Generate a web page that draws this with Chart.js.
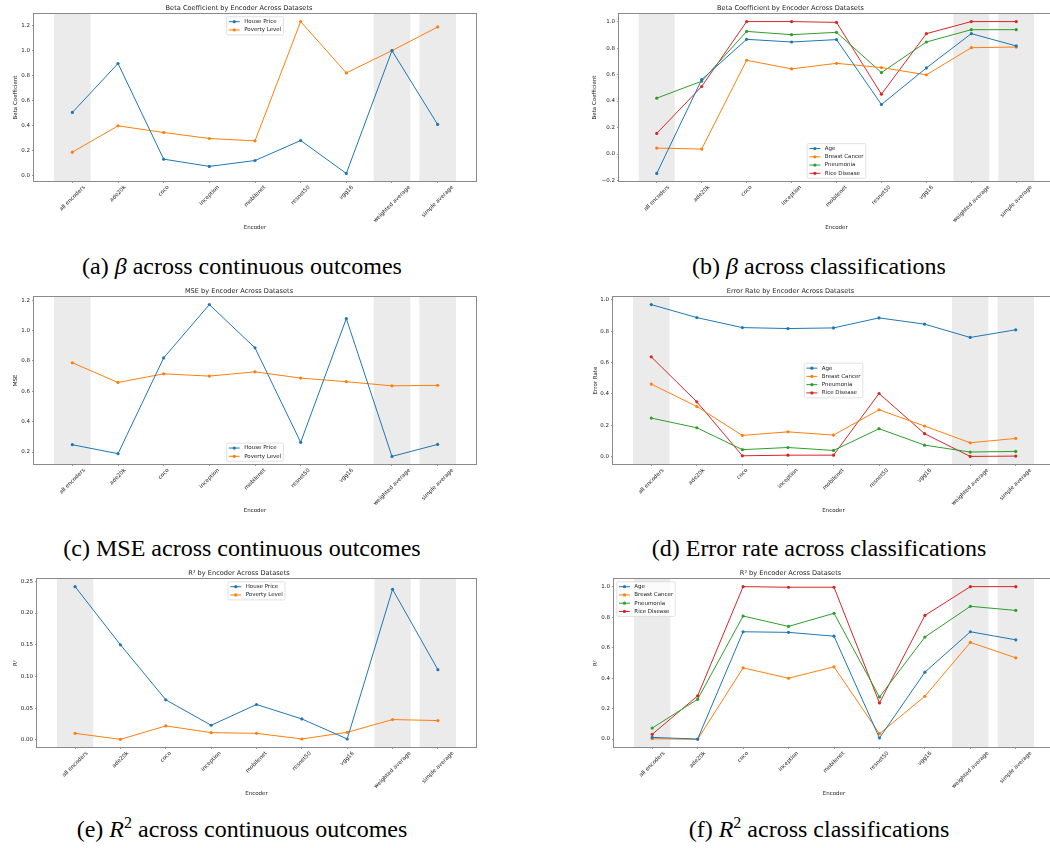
<!DOCTYPE html>
<html>
<head>
<meta charset="utf-8">
<script src="https://cdn.jsdelivr.net/npm/chart.js@4.4.1/dist/chart.umd.min.js"></script>
<style>
  html, body { margin: 0; padding: 0; background: #fff; width: 1050px; height: 848px; overflow: hidden; }
  canvas { position: absolute; }
  .caption {
    position: absolute; width: 460px; margin-left: -230px; text-align: center;
    font-family: "Liberation Serif", "Times New Roman", serif; font-size: 24px; line-height: 28px;
    color: #000; white-space: nowrap;
  }
  .caption sup { font-size: 16px; line-height: 0; vertical-align: 9px; }
</style>
</head>
<body>
<canvas id="chartA"></canvas>
<canvas id="chartB"></canvas>
<canvas id="chartC"></canvas>
<canvas id="chartD"></canvas>
<canvas id="chartE"></canvas>
<canvas id="chartF"></canvas>

<div class="caption" style="left:242px; top:252px">(a) <i>β</i> across continuous outcomes</div>
<div class="caption" style="left:819px; top:252px">(b) <i>β</i> across classifications</div>
<div class="caption" style="left:242px; top:534px">(c) MSE across continuous outcomes</div>
<div class="caption" style="left:819px; top:534px">(d) Error rate across classifications</div>
<div class="caption" style="left:242px; top:815px">(e) <i>R</i><sup>2</sup> across continuous outcomes</div>
<div class="caption" style="left:819px; top:815px">(f) <i>R</i><sup>2</sup> across classifications</div>

<script>
// ---- data ----
const encoders = ['all encoders', 'ade20k', 'coco', 'inception', 'mobilenet', 'resnet50', 'vgg16', 'weighted average', 'simple average'];
const shadedIdx = [0, 7, 8]; // columns with grey background

// (a) beta, continuous outcomes
const betaHousePrice   = [0.506, 0.897, 0.133, 0.075, 0.122, 0.282, 0.019, 1.000, 0.410];
const betaPovertyLevel = [0.189, 0.399, 0.346, 0.298, 0.279, 1.232, 0.822, 1.000, 1.189];
const betaContTicks = [0.0, 0.2, 0.4, 0.6, 0.8, 1.0, 1.2];

// (b) beta, classifications
const betaAge          = [-0.146, 0.562, 0.866, 0.846, 0.864, 0.374, 0.650, 0.909, 0.816];
const betaBreastCancer = [0.045, 0.038, 0.708, 0.643, 0.685, 0.653, 0.598, 0.803, 0.808];
const betaPneumonia    = [0.422, 0.550, 0.926, 0.901, 0.919, 0.615, 0.846, 0.939, 0.939];
const betaRiceDisease  = [0.156, 0.510, 1.000, 1.000, 0.994, 0.452, 0.909, 1.000, 1.000];
const betaClassTicks = [-0.2, 0.0, 0.2, 0.4, 0.6, 0.8, 1.0];

// (c) MSE, continuous outcomes
const mseHousePrice   = [0.248, 0.189, 0.820, 1.171, 0.886, 0.264, 1.079, 0.171, 0.250];
const msePovertyLevel = [0.788, 0.658, 0.715, 0.700, 0.728, 0.687, 0.663, 0.636, 0.639];
const mseTicks = [0.2, 0.4, 0.6, 0.8, 1.0, 1.2];

// (d) error rate, classifications
const errAge          = [0.970, 0.887, 0.823, 0.817, 0.821, 0.885, 0.845, 0.760, 0.809];
const errBreastCancer = [0.462, 0.319, 0.134, 0.157, 0.136, 0.298, 0.194, 0.087, 0.115];
const errPneumonia    = [0.245, 0.183, 0.043, 0.057, 0.038, 0.177, 0.072, 0.028, 0.032];
const errRiceDisease  = [0.636, 0.349, 0.004, 0.008, 0.008, 0.402, 0.145, 0.000, 0.002];
const errTicks = [0.0, 0.2, 0.4, 0.6, 0.8, 1.0];

// (e) R2, continuous outcomes
const r2HousePrice   = [0.2416, 0.1500, 0.0633, 0.0232, 0.0559, 0.0332, 0.0016, 0.2373, 0.1108];
const r2PovertyLevel = [0.0105, 0.0010, 0.0222, 0.0116, 0.0105, 0.0016, 0.0121, 0.0322, 0.0306];
const r2ContTicks = [0.00, 0.05, 0.10, 0.15, 0.20, 0.25];

// (f) R2, classifications
const r2Age          = [0.011, 0.000, 0.704, 0.700, 0.675, 0.007, 0.439, 0.704, 0.651];
const r2BreastCancer = [0.002, -0.002, 0.467, 0.399, 0.474, 0.035, 0.281, 0.634, 0.533];
const r2Pneumonia    = [0.072, 0.261, 0.807, 0.739, 0.825, 0.276, 0.669, 0.871, 0.844];
const r2RiceDisease  = [0.031, 0.283, 1.000, 0.996, 0.996, 0.237, 0.811, 1.000, 1.000];
const r2ClassTicks = [0.0, 0.2, 0.4, 0.6, 0.8, 1.0];

// matplotlib tab10
const C_BLUE = '#1f77b4', C_ORANGE = '#ff7f0e', C_GREEN = '#2ca02c', C_RED = '#d62728';

const FONT = 'DejaVu Sans';
const FS = 5.5;       // tick / label size
const TITLE_FS = 6.6;
const TXT = '#222';

// ---- plugins ----
const shadePlugin = {
    id: 'shade',
    beforeDatasetsDraw(chart) {
        const { ctx, chartArea: a, scales: { x } } = chart;
        ctx.save();
        ctx.fillStyle = '#ebebeb';
        shadedIdx.forEach(i => {
            const x0 = x.getPixelForValue(i - 0.4), x1 = x.getPixelForValue(i + 0.4);
            ctx.fillRect(x0, a.top, x1 - x0, a.bottom - a.top);
        });
        ctx.restore();
    }
};

// frame + matplotlib style legend box
const framePlugin = {
    id: 'frame',
    afterDatasetsDraw(chart, args, opts) {
        const { ctx, chartArea: a } = chart;
        ctx.save();
        ctx.strokeStyle = '#8a8a8a';
        ctx.lineWidth = 1;
        ctx.strokeRect(Math.round(a.left) - 0.5, Math.round(a.top) - 0.5,
            Math.round(a.right - a.left) + 1, Math.round(a.bottom - a.top) + 1);

        // legend
        const ds = chart.data.datasets;
        ctx.font = FS + 'px "' + FONT + '"';
        const pad = 0.4 * FS, rowH = FS, gap = 0.5 * FS, hLen = 2 * FS, tPad = 0.8 * FS, axPad = 0.5 * FS;
        const textW = Math.max(...ds.map(d => ctx.measureText(d.label).width));
        const bw = 2 * pad + hLen + tPad + textW;
        const bh = 2 * pad + ds.length * rowH + (ds.length - 1) * gap;
        let bx = (a.left + a.right) / 2 - bw / 2, by;
        if (opts.loc === 'upper center') by = a.top + axPad;
        else if (opts.loc === 'lower center') by = a.bottom - axPad - bh;
        else if (opts.loc === 'center') by = (a.top + a.bottom) / 2 - bh / 2;
        else { bx = a.left + axPad; by = a.top + axPad; }

        ctx.beginPath();
        ctx.roundRect(bx, by, bw, bh, 1.2);
        ctx.fillStyle = 'rgba(255,255,255,0.8)';
        ctx.fill();
        ctx.strokeStyle = '#d6d6d6';
        ctx.lineWidth = 0.7;
        ctx.stroke();

        ds.forEach((d, j) => {
            const cy = by + pad + j * (rowH + gap) + rowH / 2;
            const hx = bx + pad;
            ctx.strokeStyle = d.borderColor;
            ctx.lineWidth = 1;
            ctx.beginPath();
            ctx.moveTo(hx, cy);
            ctx.lineTo(hx + hLen, cy);
            ctx.stroke();
            ctx.fillStyle = d.borderColor;
            ctx.beginPath();
            ctx.arc(hx + hLen / 2, cy, 1.6, 0, Math.PI * 2);
            ctx.fill();
            ctx.fillStyle = TXT;
            ctx.textAlign = 'left';
            ctx.textBaseline = 'middle';
            ctx.fillText(d.label, hx + hLen + tPad, cy);
        });
        ctx.restore();
    }
};

// rotated x tick labels, centred under the tick like matplotlib
const xLabelPlugin = {
    id: 'xlabels',
    afterDraw(chart) {
        const { ctx, chartArea: a, scales: { x } } = chart;
        ctx.save();
        ctx.font = FS + 'px "' + FONT + '"';
        ctx.fillStyle = TXT;
        ctx.textAlign = 'center';
        ctx.textBaseline = 'middle';
        encoders.forEach((lab, i) => {
            const w = ctx.measureText(lab).width;
            const W = (w + FS) * Math.SQRT1_2;
            ctx.save();
            ctx.translate(x.getPixelForValue(i), a.bottom + 3.5 + W / 2);
            ctx.rotate(-Math.PI / 4);
            ctx.fillText(lab, 0, 0);
            ctx.restore();
        });
        ctx.restore();
    }
};

function fmt(v, dec) {
    return v.toFixed(dec).replace('-', '\u2212');
}

function makePanel(cfg) {
    const area = cfg.area;
    const cx = cfg.left, cy = area.t - 14;
    const canvas = document.getElementById(cfg.id);
    canvas.width = area.r + 2 - cx;
    canvas.height = area.b + 60 - cy;
    canvas.style.left = cx + 'px';
    canvas.style.top = cy + 'px';

    // matplotlib-like autoscale (5% margins)
    const vals = cfg.series.flatMap(s => s.data);
    const lo = Math.min(...vals), hi = Math.max(...vals), m = (hi - lo) * 0.05;
    const xLo = -0.4, xHi = encoders.length - 1 + 0.4, xm = (xHi - xLo) * 0.05;
    const lh = FS * 1.2;

    new Chart(canvas, {
        type: 'line',
        data: {
            datasets: cfg.series.map(s => ({
                label: s.label,
                data: s.data.map((v, i) => ({ x: i, y: v })),
                borderColor: s.color,
                backgroundColor: s.color,
                borderWidth: 1,
                pointRadius: 1.6,
                pointBorderWidth: 0,
                tension: 0
            }))
        },
        options: {
            responsive: false,
            animation: false,
            layout: { padding: { left: 0, right: 2, top: 0, bottom: 0 } },
            plugins: {
                legend: { display: false },
                tooltip: { enabled: false },
                title: {
                    display: true, text: cfg.title, color: TXT,
                    font: { family: FONT, size: TITLE_FS, weight: 'normal' },
                    padding: { top: 4, bottom: 14 - 4 - TITLE_FS * 1.2 }
                },
                frame: { loc: cfg.legend }
            },
            scales: {
                x: {
                    type: 'linear', min: xLo - xm, max: xHi + xm, bounds: 'data',
                    afterBuildTicks: sc => { sc.ticks = encoders.map((_, i) => ({ value: i })); },
                    afterFit: sc => { sc.height = 60; },
                    ticks: { display: false },
                    grid: { drawOnChartArea: false, drawTicks: true, tickLength: 2, color: '#555', lineWidth: 0.6 },
                    border: { display: false },
                    title: {
                        display: true, text: 'Encoder', color: TXT,
                        font: { family: FONT, size: FS }, padding: { top: 0, bottom: 9.7 }
                    }
                },
                y: {
                    type: 'linear', min: lo - m, max: hi + m, bounds: 'data',
                    afterBuildTicks: sc => { sc.ticks = cfg.ticks.map(v => ({ value: v })); },
                    afterFit: sc => { sc.width = area.l - cx; },
                    ticks: {
                        autoSkip: false, padding: 2, color: TXT,
                        font: { family: FONT, size: FS },
                        callback: v => fmt(v, cfg.dec)
                    },
                    grid: { drawOnChartArea: false, drawTicks: true, tickLength: 2, color: '#555', lineWidth: 0.6 },
                    border: { display: false },
                    title: {
                        display: true, text: cfg.ylabel, color: TXT,
                        font: { family: FONT, size: FS },
                        padding: { top: cfg.ylabelX - cx - lh / 2, bottom: 0 }
                    }
                }
            }
        },
        plugins: [shadePlugin, framePlugin, xLabelPlugin]
    });
}

makePanel({
    id: 'chartA', left: 0, area: { l: 34, t: 14, r: 478, b: 181 }, ylabelX: 16,
    title: 'Beta Coefficient by Encoder Across Datasets', ylabel: 'Beta Coefficient',
    ticks: betaContTicks, dec: 1, legend: 'upper center',
    series: [
        { label: 'House Price', data: betaHousePrice, color: C_BLUE },
        { label: 'Poverty Level', data: betaPovertyLevel, color: C_ORANGE }
    ]
});

makePanel({
    id: 'chartB', left: 525, area: { l: 619, t: 14, r: 1056, b: 181 }, ylabelX: 595,
    title: 'Beta Coefficient by Encoder Across Datasets', ylabel: 'Beta Coefficient',
    ticks: betaClassTicks, dec: 1, legend: 'lower center',
    series: [
        { label: 'Age', data: betaAge, color: C_BLUE },
        { label: 'Breast Cancer', data: betaBreastCancer, color: C_ORANGE },
        { label: 'Pneumonia', data: betaPneumonia, color: C_GREEN },
        { label: 'Rice Disease', data: betaRiceDisease, color: C_RED }
    ]
});

makePanel({
    id: 'chartC', left: 0, area: { l: 34, t: 297, r: 478, b: 464 }, ylabelX: 16,
    title: 'MSE by Encoder Across Datasets', ylabel: 'MSE',
    ticks: mseTicks, dec: 1, legend: 'lower center',
    series: [
        { label: 'House Price', data: mseHousePrice, color: C_BLUE },
        { label: 'Poverty Level', data: msePovertyLevel, color: C_ORANGE }
    ]
});

makePanel({
    id: 'chartD', left: 525, area: { l: 613, t: 297, r: 1056, b: 464 }, ylabelX: 596,
    title: 'Error Rate by Encoder Across Datasets', ylabel: 'Error Rate',
    ticks: errTicks, dec: 1, legend: 'center',
    series: [
        { label: 'Age', data: errAge, color: C_BLUE },
        { label: 'Breast Cancer', data: errBreastCancer, color: C_ORANGE },
        { label: 'Pneumonia', data: errPneumonia, color: C_GREEN },
        { label: 'Rice Disease', data: errRiceDisease, color: C_RED }
    ]
});

makePanel({
    id: 'chartE', left: 0, area: { l: 37, t: 579, r: 478, b: 747 }, ylabelX: 16,
    title: 'R\u00b2 by Encoder Across Datasets', ylabel: 'R\u00b2',
    ticks: r2ContTicks, dec: 2, legend: 'upper center',
    series: [
        { label: 'House Price', data: r2HousePrice, color: C_BLUE },
        { label: 'Poverty Level', data: r2PovertyLevel, color: C_ORANGE }
    ]
});

makePanel({
    id: 'chartF', left: 525, area: { l: 614, t: 579, r: 1056, b: 747 }, ylabelX: 596,
    title: 'R\u00b2 by Encoder Across Datasets', ylabel: 'R\u00b2',
    ticks: r2ClassTicks, dec: 1, legend: 'upper left',
    series: [
        { label: 'Age', data: r2Age, color: C_BLUE },
        { label: 'Breast Cancer', data: r2BreastCancer, color: C_ORANGE },
        { label: 'Pneumonia', data: r2Pneumonia, color: C_GREEN },
        { label: 'Rice Disease', data: r2RiceDisease, color: C_RED }
    ]
});
</script>
</body>
</html>
